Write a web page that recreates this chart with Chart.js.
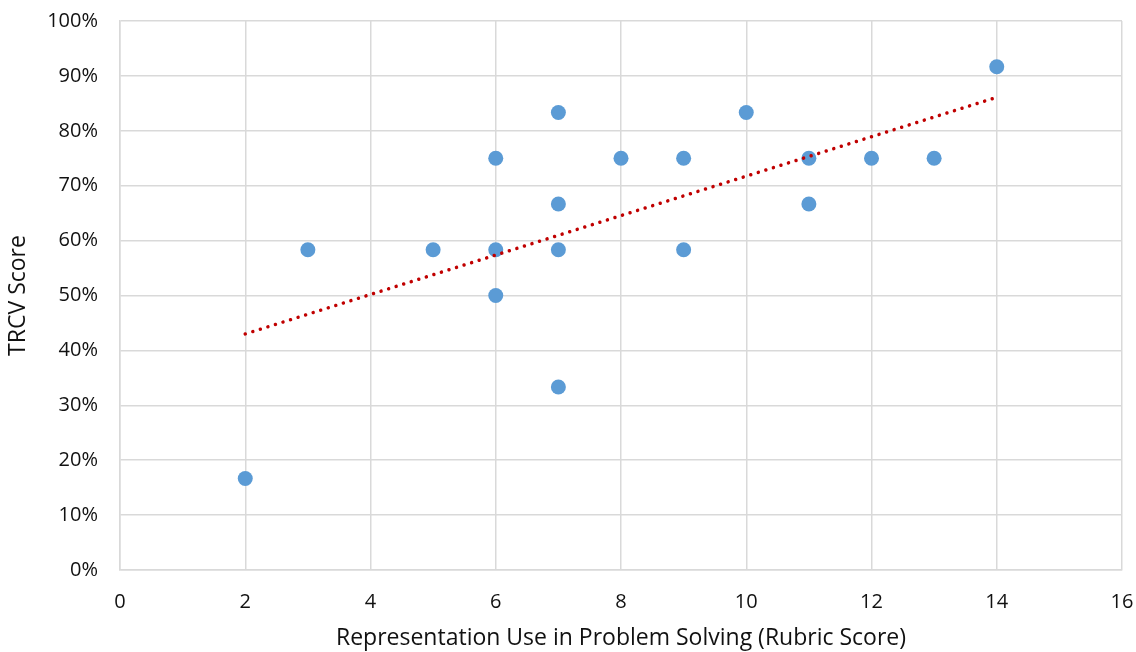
<!DOCTYPE html>
<html>
<head>
<meta charset="utf-8">
<script src="https://cdn.jsdelivr.net/npm/chart.js@4"></script>
<style>
  html, body { margin: 0; padding: 0; background: #fff; }
  #scatterChart { display: block; }
</style>
</head>
<body>
<canvas id="scatterChart" width="1136" height="652"></canvas>
<script>
// Rubric score (x) and TRCV score (y) for each student
const rubricScores = [2, 3, 5, 6, 6, 6, 7, 7, 7, 7, 8, 9, 9, 10, 11, 11, 12, 13, 14];
const trcvScores = [0.1667, 0.5833, 0.5833, 0.75, 0.5833, 0.5, 0.8333, 0.6667, 0.5833, 0.3333,
                    0.75, 0.75, 0.5833, 0.8333, 0.75, 0.6667, 0.75, 0.75, 0.9167];

// Linear trendline end points
const trendX = [2, 14];
const trendY = [0.43, 0.861];

const xTicks = [0, 2, 4, 6, 8, 10, 12, 14, 16];
const yTicks = [0, 0.1, 0.2, 0.3, 0.4, 0.5, 0.6, 0.7, 0.8, 0.9, 1.0];

const gridColor = '#d9d9d9';
const textColor = '#111';
const fontFamily = '"Open Sans", sans-serif';

const ctx = document.getElementById('scatterChart').getContext('2d');

new Chart(ctx, {
    type: 'scatter',
    data: {
        datasets: [
            {
                type: 'line',
                label: 'Linear trend',
                data: trendX.map((x, i) => ({ x: x, y: trendY[i] })),
                borderColor: '#c00000',
                borderWidth: 3.5,
                borderDash: [0.01, 7.9],
                borderCapStyle: 'round',
                pointRadius: 0,
                fill: false,
                order: 0
            },
            {
                label: 'TRCV Score',
                data: rubricScores.map((x, i) => ({ x: x, y: trcvScores[i] })),
                backgroundColor: '#5b9bd5',
                borderColor: '#5b9bd5',
                borderWidth: 0,
                pointRadius: 7.5,
                pointHoverRadius: 7.5,
                order: 1
            }
        ]
    },
    options: {
        responsive: false,
        devicePixelRatio: 1,
        animation: false,
        layout: {
            padding: { top: 21, right: 14, left: 0, bottom: 0 }
        },
        scales: {
            x: {
                type: 'linear',
                min: 0,
                max: 16,
                afterBuildTicks: (scale) => {
                    scale.ticks = xTicks.map(v => ({ value: v }));
                },
                afterFit: (scale) => {
                    scale.height = 82;
                    scale.paddingLeft = 0;
                    scale.paddingRight = 0;
                },
                grid: { color: gridColor, lineWidth: 1.5, drawTicks: false },
                border: { color: gridColor, width: 1.5 },
                ticks: {
                    padding: 20,
                    color: textColor,
                    font: { family: fontFamily, size: 20 }
                },
                title: {
                    display: true,
                    text: 'Representation Use in Problem Solving (Rubric Score)',
                    color: textColor,
                    font: { family: fontFamily, size: 23 },
                    padding: { top: 0, bottom: 0 }
                }
            },
            y: {
                min: 0,
                max: 1,
                afterBuildTicks: (scale) => {
                    scale.ticks = yTicks.map(v => ({ value: v }));
                },
                afterFit: (scale) => {
                    scale.width = 120;
                    scale.paddingTop = 0;
                    scale.paddingBottom = 0;
                },
                grid: { color: gridColor, lineWidth: 1.5, drawTicks: false },
                border: { color: gridColor, width: 1.5 },
                ticks: {
                    padding: 22,
                    color: textColor,
                    font: { family: fontFamily, size: 20 },
                    callback: (value) => Math.round(value * 100) + '%'
                },
                title: {
                    display: true,
                    text: 'TRCV Score',
                    color: textColor,
                    font: { family: fontFamily, size: 23 },
                    padding: { top: 5, bottom: 0 }
                }
            }
        },
        plugins: {
            legend: { display: false },
            tooltip: { enabled: false }
        }
    }
});
</script>
</body>
</html>
